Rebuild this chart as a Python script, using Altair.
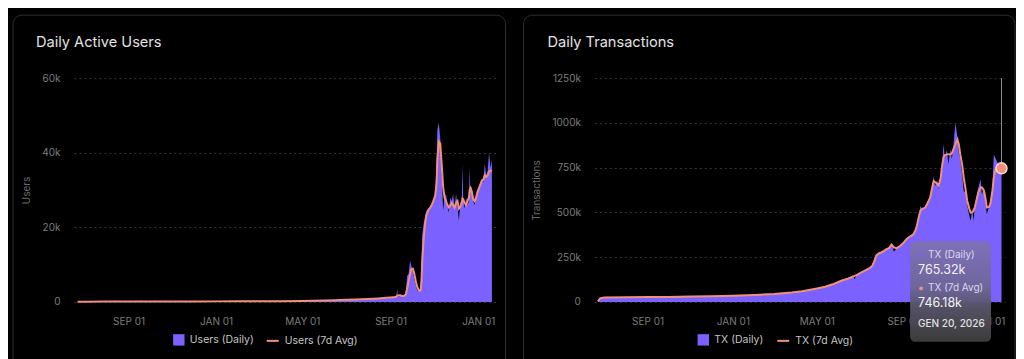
import altair as alt
import pandas as pd

# ---------------- data ----------------
users_dates = [
    "2024-06-22", "2024-07-01", "2024-08-01", "2024-09-01", "2024-10-01", "2024-11-01",
    "2024-12-01", "2025-01-01", "2025-02-01", "2025-03-01", "2025-04-01", "2025-05-01",
    "2025-05-15", "2025-06-01", "2025-06-15", "2025-07-01", "2025-07-15", "2025-08-01",
    "2025-08-15", "2025-08-25", "2025-09-01", "2025-09-04", "2025-09-07", "2025-09-09",
    "2025-09-10", "2025-09-11", "2025-09-14", "2025-09-17", "2025-09-20", "2025-09-22",
    "2025-09-24", "2025-09-26", "2025-09-28", "2025-09-30", "2025-10-02", "2025-10-04",
    "2025-10-06", "2025-10-08", "2025-10-10", "2025-10-12", "2025-10-13", "2025-10-14",
    "2025-10-15", "2025-10-17", "2025-10-19", "2025-10-21", "2025-10-24", "2025-10-27",
    "2025-10-30", "2025-11-02", "2025-11-04", "2025-11-05", "2025-11-07", "2025-11-09",
    "2025-11-11", "2025-11-13", "2025-11-15", "2025-11-17", "2025-11-19", "2025-11-21",
    "2025-11-23", "2025-11-25", "2025-11-27", "2025-11-29", "2025-12-01", "2025-12-03",
    "2025-12-05", "2025-12-07", "2025-12-09", "2025-12-10", "2025-12-11", "2025-12-13",
    "2025-12-15", "2025-12-17", "2025-12-19", "2025-12-20", "2025-12-21", "2025-12-23",
    "2025-12-25", "2025-12-27", "2025-12-29", "2025-12-31", "2026-01-02", "2026-01-04",
    "2026-01-06", "2026-01-08", "2026-01-10", "2026-01-12", "2026-01-14", "2026-01-16",
    "2026-01-18", "2026-01-20",
]
users_daily = [
    60, 70, 80, 90, 100, 110,
    120, 140, 160, 180, 200, 240,
    300, 380, 460, 560, 680, 820,
    950, 1100, 1250, 1300, 1350, 1400,
    3500, 1500, 1500, 1600, 1700, 2500,
    7000, 7500, 11000, 9500, 8000, 6000,
    4500, 3000, 3200, 3000, 5000, 12000,
    18000, 21000, 23000, 24500, 25000, 26000,
    27000, 29000, 38000, 46000, 48000, 44000,
    35000, 24500, 28000, 29000, 26000, 24000,
    28000, 27000, 29000, 25000, 29000, 26000,
    21700, 27000, 26000, 37000, 28000, 25000,
    28000, 26000, 27000, 36000, 30000, 31000,
    27000, 26000, 28000, 30000, 31000, 32000,
    33000, 32000, 37000, 34000, 35000, 40000,
    36000, 38000,
]
users_avg = [
    60, 70, 80, 90, 100, 110,
    120, 140, 160, 180, 200, 240,
    290, 370, 450, 550, 670, 800,
    940, 1080, 1200, 1250, 1300, 1400,
    1700, 1750, 1800, 1600, 1650, 2000,
    3500, 5500, 7500, 8800, 8900, 7500,
    5500, 4000, 3200, 3000, 3300, 6000,
    11000, 17000, 21000, 23500, 24800, 25500,
    26800, 28500, 32000, 38000, 43000, 42500,
    37000, 31000, 28000, 27000, 26000, 25300,
    26000, 26500, 26000, 25300, 26500, 27000,
    25000, 25500, 26500, 27700, 27500, 26500,
    26000, 27000, 28000, 30000, 30500, 29500,
    27500, 27000, 28000, 29500, 30500, 31500,
    32500, 32800, 34000, 33500, 33800, 35000,
    35200, 35000,
]

tx_dates = [
    "2024-06-22", "2024-06-25", "2024-07-01", "2024-08-01", "2024-09-01", "2024-10-01",
    "2024-11-01", "2024-12-01", "2025-01-01", "2025-02-01", "2025-03-01", "2025-03-26",
    "2025-04-10", "2025-04-20", "2025-05-01", "2025-05-13", "2025-05-25", "2025-06-05",
    "2025-06-15", "2025-06-22", "2025-06-24", "2025-06-27", "2025-07-03", "2025-07-08",
    "2025-07-12", "2025-07-16", "2025-07-19", "2025-07-22", "2025-07-25", "2025-07-29",
    "2025-08-01", "2025-08-05", "2025-08-08", "2025-08-12", "2025-08-16", "2025-08-19",
    "2025-08-23", "2025-08-28", "2025-09-02", "2025-09-06", "2025-09-11", "2025-09-16",
    "2025-09-19", "2025-09-21", "2025-09-24", "2025-09-26", "2025-09-29", "2025-10-03",
    "2025-10-06", "2025-10-10", "2025-10-13", "2025-10-15", "2025-10-17", "2025-10-20",
    "2025-10-22", "2025-10-25", "2025-10-27", "2025-10-29", "2025-10-31", "2025-11-03",
    "2025-11-05", "2025-11-08", "2025-11-10", "2025-11-12", "2025-11-15", "2025-11-18",
    "2025-11-20", "2025-11-22", "2025-11-25", "2025-11-27", "2025-11-30", "2025-12-02",
    "2025-12-05", "2025-12-07", "2025-12-09", "2025-12-11", "2025-12-13", "2025-12-16",
    "2025-12-18", "2025-12-21", "2025-12-23", "2025-12-26", "2025-12-28", "2025-12-30",
    "2026-01-02", "2026-01-04", "2026-01-07", "2026-01-09", "2026-01-11", "2026-01-14",
    "2026-01-17", "2026-01-20",
]
tx_daily = [
    3000, 22000, 24000, 26000, 27000, 28000,
    30000, 32000, 35000, 39000, 44000, 53000,
    60000, 67000, 75000, 85000, 100000, 119000,
    132000, 142000, 128000, 152000, 165000, 175000,
    184000, 190000, 205000, 240000, 267000, 272000,
    276000, 285000, 295000, 305000, 330000, 280000,
    300000, 315000, 335000, 352000, 365000, 380000,
    400000, 430000, 480000, 536000, 515000, 530000,
    555000, 590000, 640000, 703000, 648000, 680000,
    630000, 700000, 760000, 880000, 800000, 850000,
    770000, 850000, 800000, 860000, 1000000, 920000,
    830000, 800000, 700000, 620000, 610000, 540000,
    480000, 453000, 520000, 455000, 540000, 600000,
    640000, 685000, 600000, 640000, 560000, 490000,
    530000, 560000, 650000, 824000, 805000, 780000,
    760000, 765320,
]
tx_avg = [
    3000, 20000, 24000, 26000, 27000, 28000,
    30000, 32000, 35000, 39000, 44000, 53000,
    60000, 67000, 75000, 85000, 100000, 118000,
    131000, 142000, 145000, 150000, 163000, 173000,
    182000, 190000, 200000, 225000, 260000, 272000,
    276000, 285000, 293000, 300000, 320000, 305000,
    300000, 312000, 330000, 350000, 365000, 378000,
    400000, 425000, 480000, 508000, 520000, 527000,
    550000, 582000, 640000, 675000, 670000, 660000,
    650000, 690000, 760000, 805000, 820000, 824000,
    825000, 824000, 830000, 850000, 880000, 907000,
    880000, 824000, 760000, 694000, 620000, 564000,
    520000, 499000, 500000, 508000, 530000, 582000,
    615000, 638000, 640000, 620000, 580000, 527000,
    530000, 545000, 620000, 694000, 735000, 750000,
    748000, 746180,
]

x_tick_dates = ["2024-09-01", "2025-01-01", "2025-05-01", "2025-09-01", "2026-01-01"]
x_domain = ["2024-06-17", "2026-01-25"]
users_ticks = [0, 20000, 40000, 60000]
tx_ticks = [0, 250000, 500000, 750000, 1000000, 1250000]
users_names = ["Users (Daily)", "Users (7d Avg)"]
tx_names = ["TX (Daily)", "TX (7d Avg)"]
hover_label = "GEN 20, 2026"

# ---------------- styling ----------------
PURPLE = "#7b61ff"
SALMON = "#f2907c"
FONT = "Inter"
H = 224


def dt(s):
    y, m, d = (int(v) for v in s.split("-"))
    return alt.DateTime(year=y, month=m, date=d)


one = pd.DataFrame({"k": [0]})


def panel(title, ytitle, dates, daily, avg, names, ticks, width,
          frame_left, title_left, leg_d_x, leg_a_x, tooltip=False):
    df = pd.DataFrame({
        "date": [d + "T00:00:00" for d in dates],
        "daily": daily,
        "avg": avg,
        "sd": names[0],
        "sa": names[1],
    })
    x = alt.X(
        "date:T",
        scale=alt.Scale(domain=[dt(x_domain[0]), dt(x_domain[1])]),
        axis=alt.Axis(
            values=[dt(t) for t in x_tick_dates],
            labelExpr="upper(timeFormat(datum.value, '%b %d'))",
            title=None, grid=False, labelPadding=15,
        ),
    )
    y = alt.Y(
        "daily:Q",
        scale=alt.Scale(domain=[0, ticks[-1]], nice=False),
        axis=alt.Axis(
            values=ticks,
            labelExpr="datum.value == 0 ? '0' : format(datum.value / 1000, 'd') + 'k'",
            title=ytitle, grid=True, labelPadding=14, titlePadding=10,
        ),
    )
    frame = alt.Chart(one).mark_rect(
        fill="transparent", stroke="#2e2e2e", strokeWidth=1, cornerRadius=9
    ).encode(
        x=alt.value(frame_left), x2=alt.value(width + 10),
        y=alt.value(-63), y2=alt.value(H + 85),
    )
    ttl = alt.Chart(one).mark_text(
        text=title, align="left", baseline="alphabetic", fontSize=14.6,
        color="#e2e2e2", font=FONT, fontWeight=400,
    ).encode(x=alt.value(title_left), y=alt.value(-31))
    area = alt.Chart(df).mark_area(opacity=1).encode(
        x=x, y=y,
        fill=alt.Fill(
            "sd:N",
            scale=alt.Scale(domain=[names[0]], range=[PURPLE]),
            legend=alt.Legend(
                orient="none", legendX=leg_d_x, legendY=256, title=None,
                symbolType="square", symbolSize=130, labelOffset=5,
                symbolStrokeWidth=0,
            ),
        ),
    )
    line = alt.Chart(df).mark_line(strokeWidth=2).encode(
        x="date:T", y="avg:Q",
        stroke=alt.Stroke(
            "sa:N",
            scale=alt.Scale(domain=[names[1]], range=[SALMON]),
            legend=alt.Legend(
                orient="none", legendX=leg_a_x, legendY=256, title=None,
                symbolType="stroke", symbolSize=144, symbolStrokeWidth=2,
                labelOffset=5,
            ),
        ),
    )
    layers = [frame, ttl, area, line]
    if tooltip:
        hv = pd.DataFrame({
            "date": [dates[-1] + "T00:00:00"],
            "avg": [avg[-1]],
        })
        rule = alt.Chart(hv).mark_rule(color="#8c8c8c", strokeWidth=1).encode(
            x="date:T", y="avg:Q", y2=alt.value(0)
        )
        pt = alt.Chart(hv).mark_circle(
            size=120, color=SALMON, opacity=1, stroke="#ffd8cf", strokeWidth=1.5
        ).encode(x="date:T", y="avg:Q")
        box_fill = alt.LinearGradient(
            gradient="linear", x1=0, x2=0, y1=0, y2=1,
            stops=[
                alt.GradientStop(color="#7f72b8", offset=0),
                alt.GradientStop(color="#6f6699", offset=0.45),
                alt.GradientStop(color="#58546a", offset=0.65),
                alt.GradientStop(color="#3d3d3b", offset=1),
            ],
        )
        box = alt.Chart(one).mark_rect(
            fill=box_fill, opacity=0.97, cornerRadius=5
        ).encode(x=alt.value(316), x2=alt.value(397), y=alt.value(163), y2=alt.value(264))
        dot1 = alt.Chart(one).mark_circle(size=12, color=PURPLE, opacity=1).encode(
            x=alt.value(327), y=alt.value(177))
        dot2 = alt.Chart(one).mark_circle(size=14, color=SALMON, opacity=1).encode(
            x=alt.value(327), y=alt.value(210.5))

        def txt(s, xx, yy, size, color, weight=400):
            return alt.Chart(one).mark_text(
                text=s, align="left", baseline="middle", fontSize=size,
                color=color, font=FONT, fontWeight=weight,
            ).encode(x=alt.value(xx), y=alt.value(yy))

        layers += [
            rule, pt, box, dot1, dot2,
            txt(names[0], 334, 177, 10, "#dcd8ee"),
            txt(f"{daily[-1] / 1000:.2f}k", 324, 192.5, 12.5, "#f2f2f2"),
            txt(names[1], 334, 210.5, 10, "#dcd8ee"),
            txt(f"{avg[-1] / 1000:.2f}k", 324, 225.5, 12.5, "#f2f2f2"),
            txt(hover_label, 324, 246.5, 10, "#e0e0e0", 500),
        ]
    return alt.layer(*layers).properties(width=width, height=H)


left = panel("Daily Active Users", "Users", users_dates, users_daily, users_avg,
             users_names, users_ticks, 422, -61, -38, 99, 192)
right = panel("Daily Transactions", "Transactions", tx_dates, tx_daily, tx_avg,
              tx_names, tx_ticks, 411, -71, -47, 103, 182, tooltip=True)

chart = (
    alt.hconcat(left, right, spacing=16)
    .resolve_scale(fill="independent", stroke="independent")
    .resolve_legend(fill="independent", stroke="independent")
    .properties(
        padding={"left": 4, "top": 6, "right": 0, "bottom": 0},
        usermeta={"embedOptions": {
            "defaultStyle": "html, body { background: #000000 !important; }"
        }},
    )
    .configure(background="#000000")
    .configure_view(stroke=None)
    .configure_axis(
        domain=False, ticks=False, labelColor="#7c7c7c", labelFont=FONT,
        labelFontSize=10, titleColor="#6a6a6a", titleFont=FONT, titleFontSize=10,
        titleFontWeight="normal", gridColor="#363636", gridDash=[2, 3], gridWidth=1,
    )
    .configure_legend(labelColor="#c4c4c4", labelFont=FONT, labelFontSize=10.5, padding=0)
)

chart.save("out.html", embed_options={"renderer": "svg", "actions": False})
